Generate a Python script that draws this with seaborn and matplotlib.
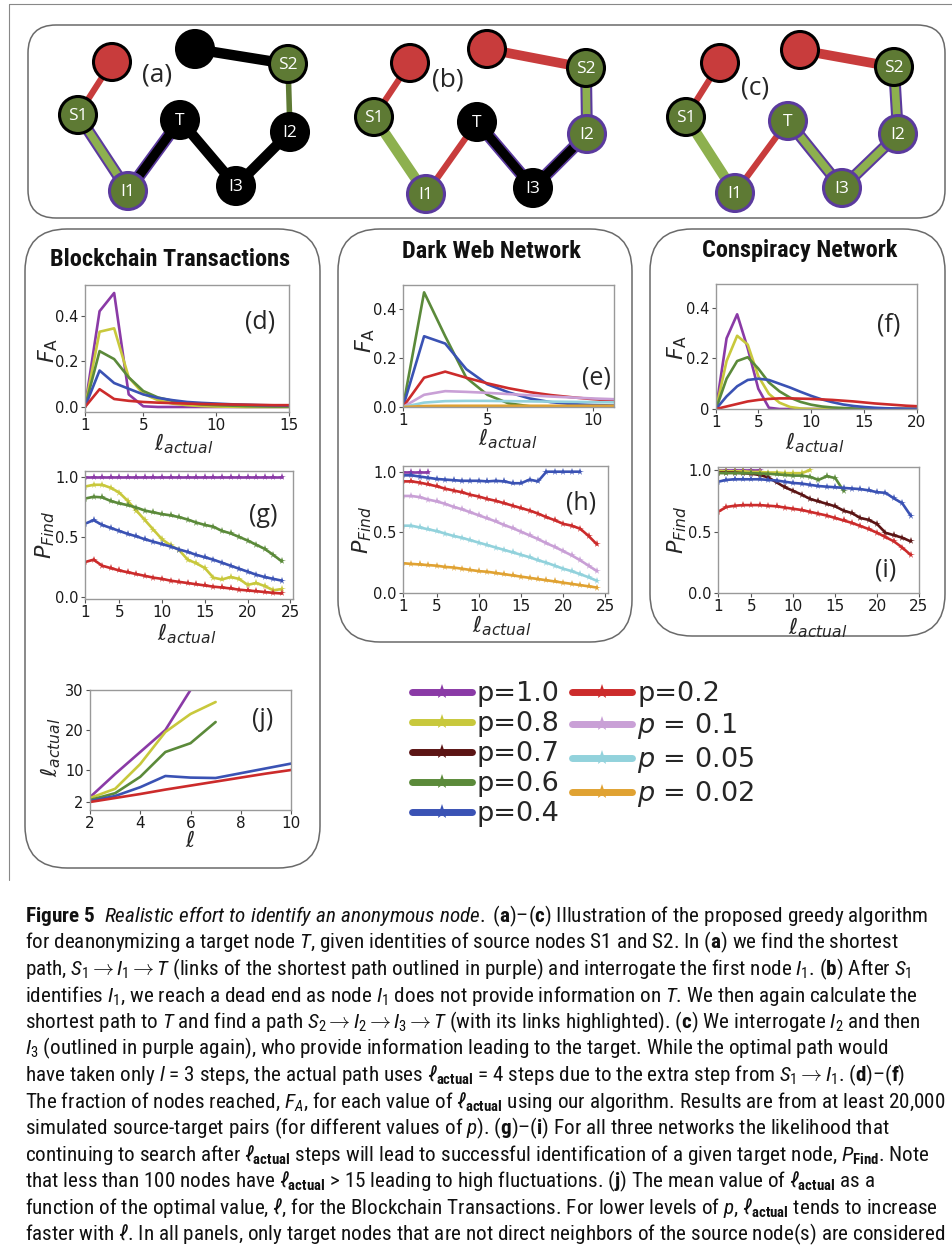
import numpy as np
import pandas as pd
import matplotlib
matplotlib.use('Agg')
import matplotlib.pyplot as plt
import seaborn as sns
from matplotlib.patches import FancyBboxPatch, Circle
from matplotlib.lines import Line2D
from matplotlib import font_manager

# ---------------- data ----------------
P_KEYS = ['1.0', '0.8', '0.7', '0.6', '0.4', '0.2', '0.1', '0.05', '0.02']
P_LABELS = ['p=1.0', 'p=0.8', 'p=0.7', 'p=0.6', 'p=0.4', 'p=0.2',
            '$p$ = 0.1', '$p$ = 0.05', '$p$ = 0.02']
PALETTE = {'1.0': '#8a3aa6', '0.8': '#c8c83c', '0.7': '#5b1414', '0.6': '#5b8a3a',
           '0.4': '#3a52b4', '0.2': '#cc2b2b', '0.1': '#c9a0d6', '0.05': '#92d2dc',
           '0.02': '#e0a232'}

# (d) Blockchain, F_A vs l_actual
d_x = list(range(1, 16))
d_FA = {
    '1.0': [0, 0.42, 0.50, 0.055, 0.003, 0, 0, 0, 0, 0, 0, 0, 0, 0, 0],
    '0.8': [0, 0.33, 0.345, 0.13, 0.058, 0.03, 0.015, 0.008, 0.004, 0.002, 0.001, 0, 0, 0, 0],
    '0.6': [0, 0.245, 0.21, 0.13, 0.07, 0.042, 0.027, 0.017, 0.011, 0.008, 0.006, 0.004, 0.003, 0.002, 0.002],
    '0.4': [0, 0.16, 0.105, 0.08, 0.055, 0.04, 0.03, 0.022, 0.018, 0.015, 0.012, 0.01, 0.008, 0.007, 0.006],
    '0.2': [0, 0.078, 0.035, 0.027, 0.022, 0.019, 0.017, 0.015, 0.013, 0.012, 0.011, 0.01, 0.009, 0.008, 0.008],
}
# (e) Dark Web
e_x = list(range(1, 12))
e_FA = {
    '0.6': [0, 0.47, 0.29, 0.12, 0.05, 0.015, 0.003, 0, 0, 0, 0],
    '0.4': [0, 0.29, 0.26, 0.155, 0.093, 0.06, 0.035, 0.02, 0.012, 0.008, 0.006],
    '0.2': [0, 0.12, 0.145, 0.12, 0.097, 0.077, 0.061, 0.049, 0.04, 0.032, 0.026],
    '0.1': [0, 0.05, 0.065, 0.062, 0.058, 0.053, 0.048, 0.043, 0.039, 0.035, 0.032],
    '0.05': [0, 0.018, 0.024, 0.025, 0.025, 0.024, 0.023, 0.022, 0.021, 0.02, 0.019],
    '0.02': [0, 0.004, 0.005, 0.005, 0.005, 0.005, 0.005, 0.005, 0.005, 0.005, 0.005],
}
# (f) Conspiracy
f_x = list(range(1, 21))
f_FA = {
    '1.0': [0, 0.28, 0.375, 0.24, 0.08, 0.005, 0, 0, 0, 0, 0, 0, 0, 0, 0, 0, 0, 0, 0, 0],
    '0.8': [0, 0.19, 0.29, 0.255, 0.13, 0.06, 0.025, 0.008, 0.002, 0, 0, 0, 0, 0, 0, 0, 0, 0, 0, 0],
    '0.6': [0, 0.12, 0.19, 0.205, 0.16, 0.105, 0.07, 0.045, 0.028, 0.017, 0.01, 0.006, 0.004, 0.002, 0, 0, 0, 0, 0, 0],
    '0.4': [0, 0.05, 0.09, 0.115, 0.12, 0.115, 0.10, 0.085, 0.068, 0.052, 0.038, 0.027, 0.018, 0.012, 0.008, 0.005, 0.003, 0.002, 0.001, 0.001],
    '0.2': [0, 0.01, 0.02, 0.03, 0.036, 0.04, 0.042, 0.042, 0.041, 0.04, 0.038, 0.036, 0.033, 0.03, 0.026, 0.022, 0.019, 0.016, 0.013, 0.011],
}
# (g) Blockchain P_Find
g_x = list(range(1, 25))
g_P = {
    '1.0': [1.0] * 24,
    '0.8': [0.92, 0.935, 0.935, 0.91, 0.87, 0.80, 0.72, 0.64, 0.56, 0.48, 0.43, 0.39, 0.31, 0.28, 0.24, 0.16, 0.145, 0.165, 0.15, 0.10, 0.115, 0.09, 0.055, 0.065],
    '0.6': [0.82, 0.835, 0.83, 0.80, 0.78, 0.765, 0.745, 0.72, 0.705, 0.69, 0.68, 0.665, 0.645, 0.62, 0.60, 0.585, 0.55, 0.53, 0.50, 0.47, 0.435, 0.40, 0.35, 0.295],
    '0.4': [0.61, 0.64, 0.60, 0.575, 0.55, 0.525, 0.505, 0.48, 0.46, 0.44, 0.42, 0.395, 0.375, 0.35, 0.33, 0.31, 0.285, 0.26, 0.235, 0.21, 0.185, 0.165, 0.15, 0.135],
    '0.2': [0.29, 0.31, 0.26, 0.24, 0.22, 0.205, 0.19, 0.175, 0.16, 0.15, 0.135, 0.125, 0.115, 0.105, 0.095, 0.085, 0.078, 0.07, 0.06, 0.053, 0.047, 0.04, 0.033, 0.028],
}
# (h) Dark Web P_Find
h_x = list(range(1, 25))
h_P = {
    '1.0': [1.0, 1.0, 1.0, 1.0],
    '0.4': [0.97, 0.97, 0.96, 0.95, 0.94, 0.935, 0.93, 0.925, 0.925, 0.925, 0.92, 0.925, 0.92, 0.905, 0.905, 0.935, 0.92, 1.0, 1.0, 1.0, 1.0, 1.0],
    '0.2': [0.92, 0.92, 0.91, 0.895, 0.88, 0.86, 0.845, 0.83, 0.81, 0.795, 0.775, 0.76, 0.74, 0.72, 0.70, 0.68, 0.655, 0.625, 0.60, 0.57, 0.555, 0.53, 0.47, 0.40],
    '0.1': [0.80, 0.80, 0.79, 0.77, 0.755, 0.735, 0.71, 0.69, 0.665, 0.64, 0.615, 0.59, 0.56, 0.535, 0.505, 0.475, 0.445, 0.41, 0.38, 0.345, 0.31, 0.27, 0.225, 0.18],
    '0.05': [0.555, 0.555, 0.54, 0.525, 0.51, 0.49, 0.47, 0.455, 0.435, 0.415, 0.395, 0.375, 0.355, 0.335, 0.315, 0.295, 0.27, 0.25, 0.225, 0.20, 0.18, 0.155, 0.13, 0.10],
    '0.02': [0.245, 0.24, 0.235, 0.23, 0.225, 0.215, 0.21, 0.20, 0.19, 0.18, 0.175, 0.165, 0.155, 0.145, 0.135, 0.125, 0.115, 0.105, 0.095, 0.085, 0.075, 0.065, 0.055, 0.045],
}
# (i) Conspiracy P_Find
i_x = list(range(1, 25))
i_P = {
    '1.0': [1.0, 1.0, 1.0, 1.0, 1.0, 1.0],
    '0.8': [0.995, 0.99, 0.99, 0.99, 0.985, 0.985, 0.98, 0.98, 0.975, 0.975, 0.975, 1.0],
    '0.7': [0.98, 0.98, 0.98, 0.975, 0.97, 0.96, 0.94, 0.90, 0.86, 0.83, 0.80, 0.765, 0.745, 0.725, 0.705, 0.67, 0.65, 0.61, 0.595, 0.56, 0.49, 0.47, 0.45, 0.42],
    '0.6': [0.975, 0.975, 0.975, 0.975, 0.975, 0.972, 0.97, 0.965, 0.96, 0.955, 0.955, 0.945, 0.92, 0.95, 0.935, 0.83],
    '0.4': [0.905, 0.92, 0.925, 0.925, 0.925, 0.925, 0.92, 0.915, 0.905, 0.895, 0.89, 0.88, 0.87, 0.865, 0.86, 0.855, 0.85, 0.845, 0.835, 0.82, 0.815, 0.77, 0.73, 0.63],
    '0.2': [0.66, 0.70, 0.71, 0.715, 0.715, 0.715, 0.71, 0.705, 0.695, 0.685, 0.675, 0.66, 0.645, 0.63, 0.61, 0.59, 0.57, 0.545, 0.52, 0.49, 0.455, 0.42, 0.37, 0.31],
}
# (j) Blockchain mean l_actual vs l
j_x = list(range(2, 11))
j_L = {
    '1.0': [3.2, 9.0, 14.5, 20.0, 30.0],
    '0.8': [3.0, 5.3, 11.5, 19.5, 24.0, 27.0],
    '0.6': [2.5, 4.2, 8.3, 14.5, 16.7, 22.0],
    '0.4': [2.2, 3.5, 5.7, 8.5, 8.1, 8.0, 9.2, 10.4, 11.6],
    '0.2': [2.0, 3.0, 4.0, 5.1, 6.1, 7.1, 8.1, 9.1, 10.0],
}

# network illustration (a)-(c)
NODE_POS = {
    'a': {'R': (112, 62), 'X': (195, 49), 'S2': (288, 64), 'S1': (78, 115), 'T': (180, 120),
          'I2': (290, 132), 'I1': (128, 191), 'I3': (236, 186)},
    'b': {'R': (410, 63), 'X': (487, 49), 'S2': (586, 68), 'S1': (374, 117), 'T': (477, 122),
          'I2': (587, 134), 'I1': (426, 194), 'I3': (533, 188)},
    'c': {'R': (720, 63), 'X': (800, 50), 'S2': (894, 67), 'S1': (686, 117), 'T': (788, 121),
          'I2': (898, 134), 'I1': (735, 193), 'I3': (842, 188)},
}
EDGES = {
    'a': [('R', 'S1', 'red_thin'), ('X', 'S2', 'black'), ('S2', 'I2', 'green_thin'),
          ('S1', 'I1', 'green_p'), ('I1', 'T', 'black_p'), ('T', 'I3', 'black'), ('I3', 'I2', 'black')],
    'b': [('R', 'S1', 'red_thin'), ('X', 'S2', 'red_thick'), ('S2', 'I2', 'green_p'),
          ('S1', 'I1', 'lgreen'), ('I1', 'T', 'red_thin'), ('T', 'I3', 'black_p'), ('I3', 'I2', 'black_p')],
    'c': [('R', 'S1', 'red_thin'), ('X', 'S2', 'red_thick'), ('S2', 'I2', 'green_p'),
          ('S1', 'I1', 'lgreen'), ('I1', 'T', 'red_thin'), ('T', 'I3', 'green_p'), ('I3', 'I2', 'green_p')],
}
NODE_STYLE = {
    'a': {'R': 'red', 'X': 'black', 'S2': 'green', 'S1': 'green', 'T': 'black', 'I2': 'black', 'I1': 'green_p', 'I3': 'black'},
    'b': {'R': 'red', 'X': 'red', 'S2': 'green', 'S1': 'green', 'T': 'black', 'I2': 'green_p', 'I1': 'green_p', 'I3': 'black'},
    'c': {'R': 'red', 'X': 'red', 'S2': 'green', 'S1': 'green', 'T': 'green_p', 'I2': 'green_p', 'I1': 'green_p', 'I3': 'green_p'},
}

# ---------------- style ----------------
sns.set_theme(style='white')
plt.rcParams['font.family'] = ['DejaVu Sans']
FL = font_manager.fontManager.ttflist
names = {f.name for f in FL}


def pick_narrow():
    for c in ['Liberation Sans Narrow', 'Roboto Condensed', 'Open Sans Condensed',
              'Noto Sans Condensed', 'DejaVu Sans Condensed', 'Arial Narrow']:
        if c in names:
            return c, 'normal'
    for fam in ['DejaVu Sans', 'Noto Sans', 'Roboto', 'Open Sans']:
        for f in FL:
            if f.name == fam and str(f.stretch) in ('condensed', 'semi-condensed', 'extra-condensed'):
                return fam, str(f.stretch)
    return 'DejaVu Sans', 'normal'


NARROW, STRETCH = pick_narrow()
LABF = 'Open Sans' if 'Open Sans' in names else 'DejaVu Sans'
suffix = '' if STRETCH == 'normal' else ':' + STRETCH
plt.rcParams['mathtext.rm'] = NARROW + suffix
plt.rcParams['mathtext.it'] = NARROW + ':italic' + suffix
plt.rcParams['mathtext.bf'] = NARROW + ':bold' + suffix

W, H = 953, 1256
fig = plt.figure(figsize=(W / 100, H / 100), dpi=100)
fig.patch.set_facecolor('white')

bg = fig.add_axes([0, 0, 1, 1])
bg.set_xlim(0, W)
bg.set_ylim(H, 0)
bg.axis('off')

# outer thin frame line
bg.plot([9, 9], [4, 880], color='#888888', lw=0.8)
bg.plot([9, W], [4, 4], color='#888888', lw=0.8)


def rbox(x0, y0, x1, y1, r):
    bg.add_patch(FancyBboxPatch((x0, y0), x1 - x0, y1 - y0,
                                boxstyle=f'round,pad=0,rounding_size={r}',
                                fc='none', ec='#6a6a6a', lw=1.1))


rbox(28, 25, 945, 218, 28)
rbox(25, 229, 320, 868, 42)
rbox(338, 229, 632, 642, 42)
rbox(650, 229, 945, 636, 42)

# network drawings
RED, GREEN, LGREEN, PURPLE = '#c83c3c', '#5e7a34', '#8db04e', '#5b3a9e'
EDGE_STY = {
    'red_thin': [(RED, 4.5)],
    'red_thick': [(RED, 7)],
    'black': [('black', 7.5)],
    'black_p': [(PURPLE, 9), ('black', 6.5)],
    'green_p': [(PURPLE, 8.5), (LGREEN, 5.5)],
    'green_thin': [(GREEN, 4)],
    'lgreen': [(LGREEN, 7.5)],
}
NODE_COL = {'red': (RED, 'black'), 'black': ('black', 'black'),
            'green': (GREEN, 'black'), 'green_p': (GREEN, PURPLE)}
for pn in ['a', 'b', 'c']:
    pos = NODE_POS[pn]
    for n1, n2, st in EDGES[pn]:
        for col, lw in EDGE_STY[st]:
            bg.plot([pos[n1][0], pos[n2][0]], [pos[n1][1], pos[n2][1]],
                    color=col, lw=lw, solid_capstyle='butt', zorder=2)
    for n, (x, y) in pos.items():
        fc, ec = NODE_COL[NODE_STYLE[pn][n]]
        bg.add_patch(Circle((x, y), 18.5, fc=fc, ec=ec, lw=2.2, zorder=3))
        if n not in ('R', 'X'):
            bg.text(x, y + 1, n, color='white', fontsize=12.5, family=LABF,
                    ha='center', va='center', zorder=4)
bg.text(157, 75, '(a)', fontsize=19, family=LABF, ha='center', va='center')
bg.text(448, 80, '(b)', fontsize=19, family=LABF, ha='center', va='center')
bg.text(755, 88, '(c)', fontsize=19, family=LABF, ha='center', va='center')

# titles (fitted to the reference widths)
TITLES = [('Blockchain Transactions', 170, 259, 258),
          ('Dark Web Network', 491, 251, 213),
          ('Conspiracy Network', 800, 251, 232)]
title_objs = []
for txt, cx, cy, wd in TITLES:
    t = bg.text(cx, cy, txt, fontsize=16, family=NARROW, fontstretch=STRETCH, weight='bold',
                ha='center', va='center', color='#111111')
    title_objs.append((t, wd))


def px_axes(l, t, r, b):
    ax = fig.add_axes([l / W, 1 - b / H, (r - l) / W, (b - t) / H])
    ax.set_facecolor('white')
    return ax, (l, t, r, b)


def draw_panel(box, x, series, markers, xlim, ylim, xticks, yticks, ytl,
               ylabel, ylab_xy, xlabel, xlab_xy, tag, tag_xy):
    ax, (l, t, r, b) = px_axes(*box)
    keys = [k for k in P_KEYS if k in series]
    frames = [pd.DataFrame({'x': x[:len(series[k])], 'y': series[k], 'p': k}) for k in keys]
    df = pd.concat(frames, ignore_index=True)
    kw = dict(marker='*', markersize=5.5, markeredgewidth=0) if markers else {}
    sns.lineplot(data=df, x='x', y='y', hue='p', hue_order=keys, palette=PALETTE,
                 linewidth=1.9, legend=False, estimator=None, ax=ax, **kw)
    ax.set_xlim(*xlim)
    ax.set_ylim(*ylim)
    ax.set_xticks(xticks)
    ax.set_xticklabels([str(v) for v in xticks])
    ax.set_yticks(yticks)
    ax.set_yticklabels(ytl)
    ax.tick_params(axis='both', bottom=True, left=True, length=3, width=0.8,
                   color='#555555', labelcolor='#1a1a1a', pad=1.5)
    ax.tick_params(axis='x', labelsize=11)
    ax.tick_params(axis='y', labelsize=10.5)
    for s in ax.spines.values():
        s.set_color('#999999')
        s.set_linewidth(1.0)
    ax.set_xlabel(xlabel, fontsize=16, va='center', math_fontfamily='dejavusans')
    ax.xaxis.set_label_coords((xlab_xy[0] - l) / (r - l), (b - xlab_xy[1]) / (b - t))
    ax.set_ylabel(ylabel, fontsize=16, va='center', ha='center', math_fontfamily='dejavusans')
    ax.yaxis.set_label_coords((ylab_xy[0] - l) / (r - l), (b - ylab_xy[1]) / (b - t))
    ax.text((tag_xy[0] - l) / (r - l), (b - tag_xy[1]) / (b - t), tag, transform=ax.transAxes,
            fontsize=18, family=LABF, ha='center', va='center')
    return ax


LACT = r'$\ell_{actual}$'
FA = r'$F_\mathrm{A}$'
PF = r'$P_{Find}$'

draw_panel((85, 285, 289, 412), d_x, d_FA, False, (1, 15), (-0.022, 0.535),
           [1, 5, 10, 15], [0, 0.2, 0.4], ['0.0', '0.2', '0.4'],
           FA, (48, 350), LACT, (184, 444), '(d)', (260, 322))
draw_panel((403, 285, 614, 407), e_x, e_FA, False, (1, 11), (0, 0.5),
           [1, 5, 10], [0, 0.2, 0.4], ['0.0', '0.2', '0.4'],
           FA, (365, 340), LACT, (508, 439), '(e)', (596, 378))
draw_panel((716, 284, 917, 409), f_x, f_FA, False, (1, 20), (0, 0.495),
           [1, 5, 10, 15, 20], [0, 0.2, 0.4], ['0', '0.2', '0.4'],
           FA, (677, 347), LACT, (815, 443), '(f)', (889, 325))
draw_panel((85, 471, 293, 599), g_x, g_P, True, (1, 25.3), (-0.018, 1.05),
           [1, 5, 10, 15, 20, 25], [0, 0.5, 1.0], ['0.0', '0.5', '1.0'],
           PF, (45, 535), LACT, (187, 634), '(g)', (263, 515))
draw_panel((403, 466, 608, 593), h_x, h_P, True, (1, 25.3), (0, 1.047),
           [1, 5, 10, 15, 20, 25], [0, 0.5, 1.0], ['0.0', '0.5', '1.0'],
           PF, (362, 530), LACT, (502, 626), '(h)', (581, 503))
draw_panel((718, 467, 919, 593), i_x, i_P, True, (1, 25), (0, 1.025),
           [1, 5, 10, 15, 20, 25], [0, 0.5, 1.0], ['0.0', '0.5', '1.0'],
           PF, (677, 530), LACT, (818, 628), '(i)', (886, 570))
draw_panel((90, 690, 291, 810), j_x, j_L, False, (2, 10), (0, 30),
           [2, 4, 6, 8, 10], [2, 10, 20, 30], ['2', '10', '20', '30'],
           LACT, (51, 747), r'$\ell$', (190, 841), '(j)', (263, 720))

# legend
handles = [Line2D([0], [0], color=PALETTE[k], lw=5, marker='*', markersize=11,
                  markeredgewidth=0) for k in P_KEYS]
fig.legend(handles, P_LABELS, loc='upper left', bbox_to_anchor=(412 / W, 1 - 681 / H),
           ncol=2, frameon=False, fontsize=19.5, handlelength=2.2, handletextpad=0.2,
           columnspacing=0.45, labelspacing=0.15, borderpad=0, borderaxespad=0)

# caption
CAP = [
    r'$\mathbf{Figure\ 5}$  $\mathit{Realistic\ effort\ to\ identify\ an\ anonymous\ node.}$ ($\mathbf{a}$)–($\mathbf{c}$) Illustration of the proposed greedy algorithm',
    r'for deanonymizing a target node $T$, given identities of source nodes S1 and S2. In ($\mathbf{a}$) we find the shortest',
    r'path, $S_1 \rightarrow I_1 \rightarrow T$ (links of the shortest path outlined in purple) and interrogate the first node $I_1$. ($\mathbf{b}$) After $S_1$',
    r'identifies $I_1$, we reach a dead end as node $I_1$ does not provide information on $T$. We then again calculate the',
    r'shortest path to $T$ and find a path $S_2 \rightarrow I_2 \rightarrow I_3 \rightarrow T$ (with its links highlighted). ($\mathbf{c}$) We interrogate $I_2$ and then',
    r'$I_3$ (outlined in purple again), who provide information leading to the target. While the optimal path would',
    r'have taken only $l$ = 3 steps, the actual path uses $\ell_{\mathbf{actual}}$ = 4 steps due to the extra step from $S_1 \rightarrow I_1$. ($\mathbf{d}$)–($\mathbf{f}$)',
    r'The fraction of nodes reached, $F_A$, for each value of $\ell_{\mathbf{actual}}$ using our algorithm. Results are from at least 20,000',
    r'simulated source-target pairs (for different values of $p$). ($\mathbf{g}$)–($\mathbf{i}$) For all three networks the likelihood that',
    r'continuing to search after $\ell_{\mathbf{actual}}$ steps will lead to successful identification of a given target node, $P_{\mathbf{Find}}$. Note',
    r'that less than 100 nodes have $\ell_{\mathbf{actual}}$ > 15 leading to high fluctuations. ($\mathbf{j}$) The mean value of $\ell_{\mathbf{actual}}$ as a',
    r'function of the optimal value, $\ell$, for the Blockchain Transactions. For lower levels of $p$, $\ell_{\mathbf{actual}}$ tends to increase',
    r'faster with $\ell$. In all panels, only target nodes that are not direct neighbors of the source node(s) are considered',
]
cap_objs = []
for n, line in enumerate(CAP):
    yb = 922 + n * 26.55
    t = bg.text(25, yb, line, fontsize=14, family=NARROW, fontstretch=STRETCH, ha='left',
                va='baseline', math_fontfamily='custom', color='#111111')
    cap_objs.append(t)

# fit text widths to the reference extents
renderer = fig.canvas.get_renderer()
maxw = max(t.get_window_extent(renderer=renderer).width for t in cap_objs)
scale = min(1.12, 922.0 / maxw)
for t in cap_objs:
    t.set_fontsize(14 * scale)
for t, wd in title_objs:
    w0 = t.get_window_extent(renderer=renderer).width
    t.set_fontsize(min(17.5, 16 * wd / w0))

fig.savefig('out.png', dpi=100, facecolor='white')
